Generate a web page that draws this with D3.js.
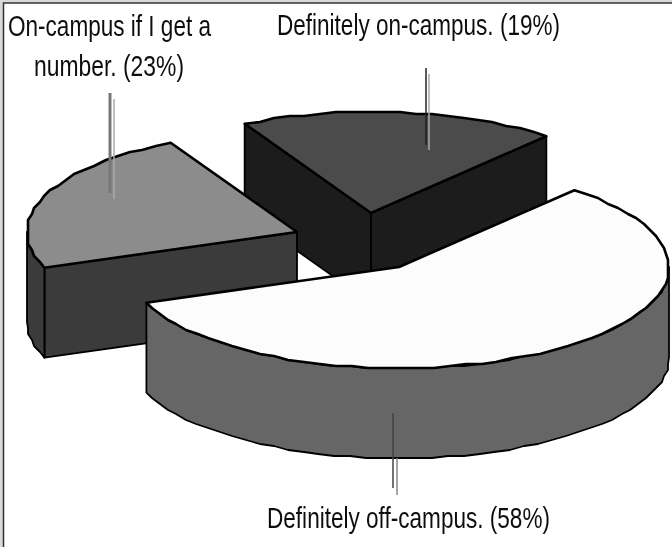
<!DOCTYPE html>
<html>
<head>
<meta charset="utf-8">
<script src="https://cdn.jsdelivr.net/npm/d3@7"></script>
<style>
  html, body { margin: 0; padding: 0; background: #fff; }
  svg { display: block; }
  text { font-family: "Liberation Sans", Arial, sans-serif; font-size: 30px; fill: #111; }
</style>
</head>
<body>
<div id="chart"></div>
<script>
    // chart data, clockwise from the big slice
    const categories = ["Definitely off-campus.", "On-campus if I get a number.", "Definitely on-campus."];
    const values = [58, 23, 19];

    // constants for plot design
    const WIDTH = 672;
    const HEIGHT = 547;
    const RX = 270;
    const RY = 101;
    const DEPTH = 90;
    const START = 40.5 * Math.PI / 180;
    const GRID = 2; // the reference edges are stair stepped

    const SLICES = [
        {center: [399, 267], top: "#fcfcfc", side: "#666666", face: "#666666"},
        {center: [297, 232], top: "#8c8c8c", side: "#3a3a3a", face: "#3a3a3a"},
        {center: [371, 213], top: "#4b4b4b", side: "#1f1f1f", face: "#1f1f1f"}
    ];

    const LABELS = [
        {lines: [{text: "Definitely off-campus. (58%)", x: 267, y: 528, w: 283}]},
        {lines: [{text: "On-campus if I get a", x: 8, y: 36, w: 203},
                 {text: "number. (23%)", x: 34, y: 76, w: 150}]},
        {lines: [{text: "Definitely on-campus. (19%)", x: 277, y: 35, w: 283}]}
    ];

    const LEADERS = [
        [{x: 393, y1: 413, y2: 488, c: "#444", w: 1.5}, {x: 397, y1: 458, y2: 495, c: "#888", w: 1.5}],
        [{x: 110, y1: 93, y2: 193, c: "#777", w: 3}, {x: 114, y1: 99, y2: 199, c: "#aaa", w: 1.5}],
        [{x: 426, y1: 68, y2: 145, c: "#222", w: 1.5}, {x: 429, y1: 74, y2: 150, c: "#aaa", w: 1.5}]
    ];

    const pie = d3.pie().sort(null)
                  .startAngle(START)
                  .endAngle(START + 2 * Math.PI);
    const arcs = pie(values);

    const SVG = d3.select("#chart")
                  .append("svg")
                    .attr("width", WIDTH)
                    .attr("height", HEIGHT);

    SVG.append("filter").attr("id", "soft")
       .append("feGaussianBlur").attr("stdDeviation", 0.55);

    const line = d3.line();
    const snap = (v) => Math.round(v / GRID) * GRID;

    // point on the rim of a slice, dy pushes it down to the bottom of the wall
    function rim(c, a, dy) {
        return [c[0] + RX * Math.sin(a), c[1] - RY * Math.cos(a) + dy];
    }

    // rim points between two angles, snapped inside so the ends stay sharp
    function rimPath(c, a0, a1, dy) {
        const n = Math.max(1, Math.round((a1 - a0) / (3.5 * Math.PI / 180)));
        return d3.range(n + 1).map((i) => {
            const p = rim(c, a0 + (a1 - a0) * i / n, dy);
            return (i === 0 || i === n) ? p : [snap(p[0]), snap(p[1])];
        });
    }

    const G = SVG.append("g").attr("filter", "url(#soft)");

    // frame
    G.append("rect").attr("x", 0).attr("y", 0).attr("width", WIDTH).attr("height", 3).attr("fill", "#d9d9d9");
    G.append("rect").attr("x", 0).attr("y", 0).attr("width", 3).attr("height", HEIGHT).attr("fill", "#d9d9d9");
    G.append("path").attr("d", line([[3.5, HEIGHT], [3.5, 3], [WIDTH, 3]]))
     .attr("fill", "none").attr("stroke", "#333").attr("stroke-width", 1.5);

    // back slices first, white one last
    [2, 1, 0].forEach((i) => {
        const s = SLICES[i];
        const d = arcs[i];
        const a0 = d.startAngle;
        const a1 = d.endAngle;
        const c = s.center;

        const style = (sel, fill, w) => sel.attr("fill", fill)
            .attr("stroke", "#000").attr("stroke-width", w).attr("stroke-linejoin", "round");

        // cut faces that look towards the viewer
        [a0, a1].forEach((a) => {
            const visible = a === a0 ? -Math.sin(a) > 0 : Math.sin(a) > 0;
            if (!visible) return;
            G.append("path")
             .attr("d", line([c, rim(c, a, 0), rim(c, a, DEPTH), [c[0], c[1] + DEPTH]]) + "Z")
             .call(style, s.face, 1.8);
        });

        // outer wall, the part of the rim below the middle of the ellipse
        const w0 = Math.max(a0, Math.PI / 2);
        const w1 = Math.min(a1, 3 * Math.PI / 2);
        if (w1 > w0) {
            G.append("path")
             .attr("d", line(rimPath(c, w0, w1, 0).concat(rimPath(c, w0, w1, DEPTH).reverse())) + "Z")
             .call(style, s.side, 1.8);
        }
        // top of the slice
        G.append("path")
         .attr("d", line([c].concat(rimPath(c, a0, a1, 0))) + "Z")
         .call(style, s.top, 2.6);
    });

    // leader lines
    LEADERS.flat().forEach((l) => {
        G.append("line")
         .attr("x1", l.x).attr("x2", l.x)
         .attr("y1", l.y1).attr("y2", l.y2)
         .attr("stroke", l.c).attr("stroke-width", l.w);
    });

    // labels
    LABELS.forEach((lab) => {
        lab.lines.forEach((t) => {
            G.append("text")
             .attr("x", t.x).attr("y", t.y)
             .attr("textLength", t.w)
             .attr("lengthAdjust", "spacingAndGlyphs")
             .text(t.text);
        });
    });
</script>
</body>
</html>
